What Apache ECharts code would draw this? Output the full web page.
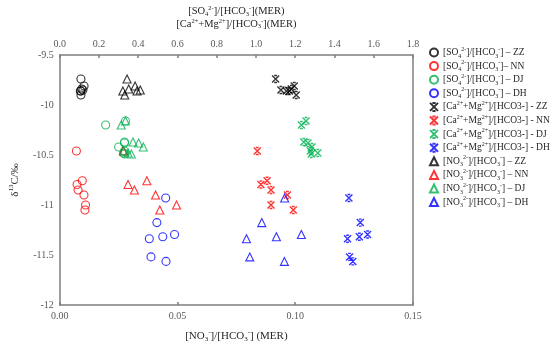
<!DOCTYPE html>
<html><head><meta charset="utf-8">
<script src="https://cdn.jsdelivr.net/npm/echarts@6/dist/echarts.min.js"></script>
<style>html,body{margin:0;padding:0;background:#fff}#c{width:550px;height:348px}</style>
</head><body><div id="c"></div>
<script>
// ---- data (y = δ13C per site; x = ratio, MER) ----
const yZZ = [-9.74, -9.81, -9.84, -9.85, -9.86, -9.86, -9.90];
const soZZ = [0.108, 0.124, 0.112, 0.118, 0.108, 0.105, 0.108];
const caZZ = [1.10, 1.195, 1.18, 1.127, 1.155, 1.17, 1.205];
const noZZ = [0.0286, 0.032, 0.0293, 0.0342, 0.0268, 0.0328, 0.0276];

const yNN = [-10.46, -10.757, -10.795, -10.85, -10.90, -11.00, -11.05];
const soNN = [0.085, 0.115, 0.0885, 0.0935, 0.1235, 0.1315, 0.1285];
const caNN = [1.0065, 1.0565, 1.025, 1.0765, 1.16, 1.0765, 1.19];
const noNN = [0.027, 0.037, 0.029, 0.0317, 0.0407, 0.0496, 0.0425];

const yDJ = [-10.16, -10.20, -10.37, -10.38, -10.42, -10.46, -10.48, -10.49];
const soDJ = [0.335, 0.234, 0.33, 0.33, 0.30, 0.33, 0.325, 0.33];
const caDJ = [1.255, 1.2315, 1.2435, 1.265, 1.285, 1.2765, 1.315, 1.2815];
const noDJ = [0.0279, 0.0261, 0.0311, 0.0335, 0.0355, 0.0272, 0.029, 0.0304];

const yDH = [-10.93, -11.176, -11.295, -11.317, -11.337, -11.519, -11.564];
const soDH = [0.54, 0.495, 0.585, 0.525, 0.4565, 0.465, 0.5415];
const caDH = [1.4735, 1.5315, 1.5685, 1.5265, 1.4665, 1.4765, 1.4935];
const noDH = [0.0955, 0.0858, 0.1026, 0.092, 0.0793, 0.0807, 0.0954];

const sites = ['ZZ', 'NN', 'DJ', 'DH'];
const siteColors = ['#000000', '#ff0000', '#00b050', '#0000ff'];
const bottomTicks = [0, 0.15, 0.05];
const topTicks = [0, 1.8, 0.2];
const yTicks = [-12, -9.5, 0.5];

// ---- styling ----
const F = '"Liberation Serif", "Times New Roman", serif';
const TXT = '#262626';
const AX = '#7f7f7f';
const rich = {
  sup: {fontSize: 6, fontFamily: F, color: TXT, verticalAlign: 'top'},
  sub: {fontSize: 6, fontFamily: F, color: TXT, verticalAlign: 'bottom'}
};
const SO4 = '[SO{sub|4}{sup|2-}]/[HCO{sub|3}{sup|-}]';
const NO3 = '[NO{sub|3}{sup|2-}]/[HCO{sub|3}{sup|-}]';
const CAMG = '[Ca{sup|2+}+Mg{sup|2+}]/[HCO3-]';

const groups = [
  {key: 'so', sym: 'circle', size: 8, axis: 1, data: [[soZZ, yZZ], [soNN, yNN], [soDJ, yDJ], [soDH, yDH]],
   label: s => SO4 + (s === 'NN' ? '– ' : ' – ') + s},
  {key: 'ca', sym: 'path://M0,0L10,10M10,0L0,10M3,0L7,0M3,10L7,10', size: 7, axis: 1,
   data: [[caZZ, yZZ], [caNN, yNN], [caDJ, yDJ], [caDH, yDH]],
   label: s => CAMG + ' - ' + s},
  {key: 'no', sym: 'triangle', size: 8, axis: 0, data: [[noZZ, yZZ], [noNN, yNN], [noDJ, yDJ], [noDH, yDH]],
   label: s => NO3 + ' – ' + s}
];

const labelMap = {};
const series = [];
groups.forEach(g => {
  sites.forEach((s, i) => {
    const name = g.key + '-' + s;
    labelMap[name] = g.label(s);
    const xs = g.data[i][0], ys = g.data[i][1];
    series.push({
      name: name, type: 'scatter', xAxisIndex: g.axis, yAxisIndex: 0,
      symbol: g.sym, symbolSize: g.size,
      itemStyle: {color: 'rgba(0,0,0,0)', borderColor: siteColors[i], borderWidth: g.key === 'ca' ? 1.4 : 1.1},
      emphasis: {disabled: true},
      data: xs.map((x, k) => [x, ys[k]])
    });
  });
});

const axisCommon = {
  type: 'value',
  axisLine: {show: true, onZero: false, lineStyle: {color: AX, width: 1.5}},
  axisTick: {show: true, inside: true, length: 3, lineStyle: {color: AX, width: 1.5}},
  splitLine: {show: false},
  axisLabel: {fontFamily: F, fontSize: 10, color: '#595959', margin: 6}
};

const chart = echarts.init(document.getElementById('c'), null, {renderer: 'canvas'});
chart.setOption({
  animation: false,
  backgroundColor: '#fff',
  grid: {left: 53, right: 137, top: 47, bottom: 41, containLabel: false},
  legend: {
    orient: 'vertical', left: 424, top: 41,
    itemWidth: 8, itemHeight: 8, itemGap: 0.6,
    formatter: n => labelMap[n],
    textStyle: {fontFamily: F, fontSize: 9.5, color: TXT, lineHeight: 13, rich: rich},
    data: series.map(s => s.name)
  },
  xAxis: [
    Object.assign({}, axisCommon, {
      position: 'bottom', min: bottomTicks[0], max: bottomTicks[1], interval: bottomTicks[2],
      axisLabel: Object.assign({}, axisCommon.axisLabel, {formatter: v => v.toFixed(2)}),
      name: '[NO{sub|3}{sup|-}]/[HCO{sub|3}{sup|-}] (MER)', nameLocation: 'middle', nameGap: 24,
      nameTextStyle: {fontFamily: F, fontSize: 11, color: TXT, lineHeight: 14,
        rich: {sup: {fontSize: 7, fontFamily: F, color: TXT, verticalAlign: 'top'},
               sub: {fontSize: 7, fontFamily: F, color: TXT, verticalAlign: 'bottom'}}}
    }),
    Object.assign({}, axisCommon, {
      position: 'top', min: topTicks[0], max: topTicks[1], interval: topTicks[2],
      axisLabel: Object.assign({}, axisCommon.axisLabel, {formatter: v => v.toFixed(1)}),
      name: '[SO{sub|4}{sup|2-}]/[HCO{sub|3}{sup|-}](MER)\n[Ca{sup|2+}+Mg{sup|2+}]/[HCO{sub|3}{sup|-}](MER)',
      nameLocation: 'middle', nameGap: 25,
      nameTextStyle: {fontFamily: F, fontSize: 10.5, color: TXT, lineHeight: 12.5,
        rich: {sup: {fontSize: 6.5, fontFamily: F, color: TXT, verticalAlign: 'top'},
               sub: {fontSize: 6.5, fontFamily: F, color: TXT, verticalAlign: 'bottom'}}}
    })
  ],
  yAxis: [
    Object.assign({}, axisCommon, {
      position: 'left', min: yTicks[0], max: yTicks[1], interval: yTicks[2],
      axisTick: {show: false},
      name: 'δ{sup|13}C/‰', nameLocation: 'middle', nameGap: 37, nameRotate: 90,
      nameTextStyle: {fontFamily: F, fontSize: 11, color: TXT, lineHeight: 14,
        rich: {sup: {fontSize: 7, fontFamily: F, color: TXT, verticalAlign: 'top'}}}
    }),
    Object.assign({}, axisCommon, {
      position: 'right', min: yTicks[0], max: yTicks[1], interval: yTicks[2],
      axisTick: {show: false}, axisLabel: {show: false}
    })
  ],
  series: series
});
</script>
</body></html>
